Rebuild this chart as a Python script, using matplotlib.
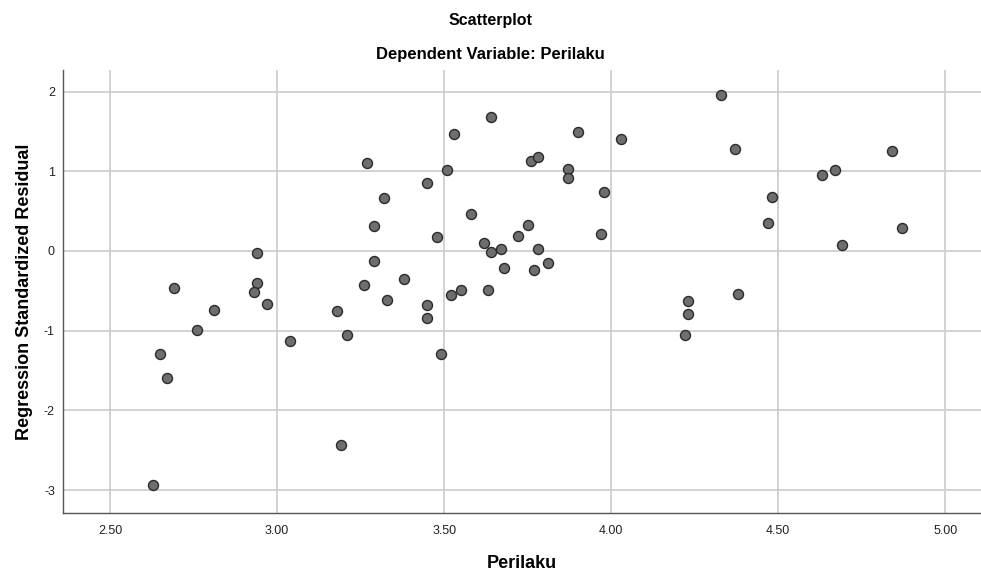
import numpy as np
import matplotlib
matplotlib.use('Agg')
import matplotlib.pyplot as plt

# predicted value (Perilaku) vs standardized residual
perilaku = [2.63, 2.65, 2.67, 2.69, 2.76, 2.81, 2.94, 2.94, 2.93, 2.97,
            3.04, 3.18, 3.19, 3.21, 3.26, 3.27, 3.29, 3.29, 3.32, 3.33,
            3.38, 3.45, 3.45, 3.45, 3.48, 3.49, 3.51, 3.52, 3.53, 3.55,
            3.58, 3.62, 3.63, 3.64, 3.64, 3.67, 3.68, 3.72, 3.75, 3.76,
            3.78, 3.77, 3.78, 3.81, 3.87, 3.87, 3.90, 3.97, 3.98, 4.03,
            4.33, 4.37, 4.22, 4.23, 4.23, 4.38, 4.47, 4.48, 4.63, 4.67,
            4.69, 4.84, 4.87]
residual = [-2.94, -1.29, -1.59, -0.46, -0.99, -0.74, -0.02, -0.40, -0.52, -0.67,
            -1.13, -0.75, -2.43, -1.06, -0.43, 1.10, 0.31, -0.13, 0.665, -0.62,
            -0.35, 0.85, -0.68, -0.84, 0.18, -1.29, 1.02, -0.55, 1.47, -0.49,
            0.46, 0.10, -0.49, 1.68, -0.01, 0.025, -0.21, 0.19, 0.33, 1.125,
            1.175, -0.24, 0.02, -0.15, 1.03, 0.92, 1.49, 0.21, 0.74, 1.41,
            1.96, 1.28, -1.06, -0.79, -0.63, -0.54, 0.35, 0.68, 0.95, 1.02,
            0.07, 1.25, 0.29]

xticks = [2.5, 3.0, 3.5, 4.0, 4.5, 5.0]
yticks = [-3, -2, -1, 0, 1, 2]

plt.rcParams['font.family'] = ['Liberation Sans', 'DejaVu Sans']

fig = plt.figure(figsize=(9.81, 5.73), dpi=100)
ax = fig.add_axes([0.0645, 0.1052, 0.9355, 0.7726])

ax.scatter(perilaku, residual, s=52, c='#6e6e6e', edgecolors='#2b2b2b',
           linewidths=1.0, zorder=3)

ax.set_xlim(2.36, 5.107)
ax.set_ylim(-3.285, 2.27)
ax.set_xticks(xticks)
ax.set_xticklabels(['%.2f' % t for t in xticks])
ax.set_yticks(yticks)
ax.set_yticklabels([str(t) for t in yticks])
ax.tick_params(length=0, labelsize=9, colors='#222222')
ax.tick_params(axis='x', pad=8.5)
ax.tick_params(axis='y', pad=6)

ax.grid(True, color='#cfcfcf', linewidth=1.3, zorder=0)
ax.set_axisbelow(True)
for side in ['top', 'right']:
    ax.spines[side].set_visible(False)
for side in ['left', 'bottom']:
    ax.spines[side].set_color('#555555')
    ax.spines[side].set_linewidth(1.0)

ax.set_xlabel('Perilaku', fontsize=13, fontweight='bold', labelpad=13)
ax.set_ylabel('Regression Standardized Residual', fontsize=13, fontweight='bold', labelpad=8)

fig.text(0.5, 1 - 20 / 573, 'Scatterplot', ha='center', va='center',
         fontsize=11.5, fontweight='bold')
fig.text(0.5, 1 - 55 / 573, 'Dependent Variable: Perilaku', ha='center', va='center',
         fontsize=12, fontweight='bold')

fig.savefig('out.png', dpi=100)
